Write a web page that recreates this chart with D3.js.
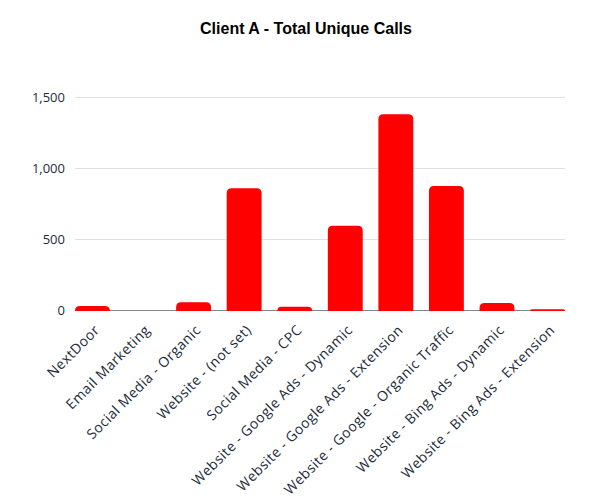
<!DOCTYPE html>
<html>
<head>
<meta charset="utf-8">
<script src="https://cdn.jsdelivr.net/npm/d3@7"></script>
<style>
  html, body { margin: 0; padding: 0; background: #ffffff; }
  svg { display: block; }
</style>
</head>
<body>
<svg id="chart" width="606" height="501"></svg>
<script>
const chartTitle = "Client A - Total Unique Calls";
const categories = [
  "NextDoor",
  "Email Marketing",
  "Social Media - Organic",
  "Website - (not set)",
  "Social Media - CPC",
  "Website - Google Ads - Dynamic",
  "Website - Google Ads - Extension",
  "Website - Google - Organic Traffic",
  "Website - Bing Ads - Dynamic",
  "Website - Bing Ads - Extension"
];
const calls = [28, 0, 55, 857, 23, 594, 1378, 873, 50, 5];
const yTicks = [0, 500, 1000, 1500];

const svg = d3.select("#chart");
const W = 606, H = 501;
const margin = { left: 75, right: 41, top: 97, bottom: 191 };
const plotW = W - margin.left - margin.right;
const baseY = H - margin.bottom;

svg.append("rect").attr("width", W).attr("height", H).attr("fill", "#ffffff");

const x = d3.scaleBand()
  .domain(categories)
  .range([margin.left, margin.left + plotW])
  .paddingInner(0.31)
  .paddingOuter(0);

const y = d3.scaleLinear()
  .domain([0, 1500])
  .range([baseY, margin.top]);

// title
svg.append("text")
  .attr("x", 306)
  .attr("y", 34)
  .attr("text-anchor", "middle")
  .attr("font-family", "Liberation Sans, Arial, sans-serif")
  .attr("font-weight", "bold")
  .attr("font-size", 16)
  .attr("fill", "#000000")
  .text(chartTitle);

// gridlines + y axis labels
const yAxis = d3.axisLeft(y)
  .tickValues(yTicks)
  .tickFormat(d3.format(","))
  .tickSize(-plotW)
  .tickPadding(10);

const gy = svg.append("g")
  .attr("transform", `translate(${margin.left},0)`)
  .call(yAxis);
gy.select(".domain").remove();
gy.selectAll(".tick line")
  .attr("stroke", "#e0e0e0")
  .attr("stroke-width", 1);
gy.selectAll(".tick text")
  .attr("font-family", "Open Sans, sans-serif")
  .attr("font-size", 13)
  .attr("fill", "#1c2b3c");

// baseline
svg.append("line")
  .attr("x1", margin.left)
  .attr("x2", margin.left + plotW)
  .attr("y1", baseY + 0.5)
  .attr("y2", baseY + 0.5)
  .attr("stroke", "#7d8894")
  .attr("stroke-width", 1);

// bars with rounded tops
const r = 5;
function barPath(d, i) {
  const x0 = x(categories[i]);
  const w = x.bandwidth();
  const y0 = y(d);
  const h = baseY + 1 - y0;
  if (d <= 0) return "";
  const rr = Math.min(r, h, w / 2);
  const yb = baseY + 1;
  return `M${x0},${yb}` +
    `L${x0},${y0 + rr}` +
    `Q${x0},${y0} ${x0 + rr},${y0}` +
    `L${x0 + w - rr},${y0}` +
    `Q${x0 + w},${y0} ${x0 + w},${y0 + rr}` +
    `L${x0 + w},${yb}Z`;
}

svg.append("g")
  .selectAll("path")
  .data(calls)
  .join("path")
  .attr("d", (d, i) => barPath(d, i))
  .attr("fill", "#ff0000");

// x labels rotated
const xAxis = d3.axisBottom(x).tickSize(0).tickPadding(0);
const gx = svg.append("g")
  .attr("transform", `translate(0,${baseY})`)
  .call(xAxis);
gx.select(".domain").remove();
gx.selectAll(".tick text")
  .attr("font-family", "Open Sans, sans-serif")
  .attr("font-size", 14)
  .attr("letter-spacing", "0.45px")
  .attr("fill", "#1c2b3c")
  .attr("text-anchor", "end")
  .attr("dy", "0")
  .attr("transform", "translate(8,21) rotate(-45)");
</script>
</body>
</html>
